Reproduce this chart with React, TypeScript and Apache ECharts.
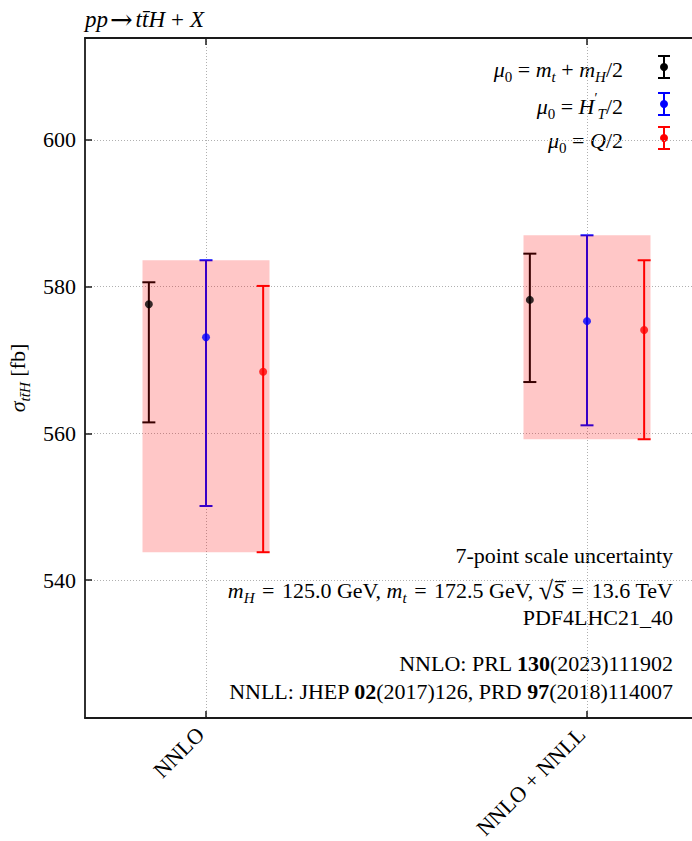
import React, { useEffect, useRef } from 'react';
import * as echarts from 'echarts';

// ---------------- data ----------------
const categories = ['NNLO', 'NNLO + NNLL'];
const scaleNames = ['mu0 = mt + mH/2', "mu0 = H'T/2", 'mu0 = Q/2'];
const centralBlack = [577.6, 578.2];
const upperBlack = [580.6, 584.5];
const lowerBlack = [561.5, 567.0];
const centralBlue = [573.1, 575.3];
const upperBlue = [583.6, 587.0];
const lowerBlue = [550.1, 561.1];
const centralRed = [568.4, 574.1];
const upperRed = [580.1, 583.6];
const lowerRed = [543.8, 559.2];
const yTicks = [540, 560, 580, 600];
const xTicks = [0, 1];
const yMin = 521.2;
const yMax = 613.9;

// ---------------- layout / style ----------------
const COLORS = ['#000000', '#0000ff', '#ff0000'];
const OFFSETS = [-0.15, 0, 0.15];
const BOX_HALF = 1 / 6;
const X_MIN = -0.3176;
const X_MAX = 1.2756;
const FONT = '"Liberation Serif", "Times New Roman", "DejaVu Serif", serif';
const AXIS_COLOR = '#1a1a1a';

const groups = [
  { central: centralBlack, upper: upperBlack, lower: lowerBlack },
  { central: centralBlue, upper: upperBlue, lower: lowerBlue },
  { central: centralRed, upper: upperRed, lower: lowerRed },
];

const richG = {
  i: { fontFamily: FONT, fontSize: 22, fontStyle: 'italic', fill: '#000', color: '#000', lineHeight: 30 },
  ti: { fontFamily: FONT, fontSize: 23, fontStyle: 'italic', fill: '#000', color: '#000', lineHeight: 30 },
  sub: { fontFamily: FONT, fontSize: 15, fontStyle: 'italic', fill: '#000', color: '#000', verticalAlign: 'bottom', lineHeight: 30 },
  subu: { fontFamily: FONT, fontSize: 15, fill: '#000', color: '#000', verticalAlign: 'bottom', lineHeight: 30 },
  sup: { fontFamily: FONT, fontSize: 14, fill: '#000', color: '#000', verticalAlign: 'top', lineHeight: 30 },
  b: { fontFamily: FONT, fontSize: 22, fontWeight: 'bold', fill: '#000', color: '#000', lineHeight: 30 },
  eq: { fontFamily: FONT, fontSize: 22, fill: '#000', color: '#000', lineHeight: 30, padding: [0, 2, 0, 2] },
  pl: { fontFamily: FONT, fontSize: 23, fill: '#000', color: '#000', lineHeight: 30, padding: [0, 6, 0, 6] },
  ar: { fontFamily: '"DejaVu Serif", serif', fontSize: 27, fill: '#000', color: '#000', lineHeight: 30, padding: [0, 3, 0, 2] },
  sq: { fontFamily: FONT, fontSize: 26, fill: '#000', color: '#000', lineHeight: 30 },
};

function textEl(text: string, x: number, y: number, align: string) {
  return {
    type: 'text',
    x,
    y,
    silent: true,
    style: {
      text,
      fontFamily: FONT,
      fontSize: 22,
      fill: '#000',
      lineHeight: 30,
      textAlign: align,
      textVerticalAlign: 'middle',
      rich: richG,
    },
  };
}

export default function App() {
  const ref = useRef<HTMLDivElement>(null);

  useEffect(() => {
    if (!ref.current) return;
    document.body.style.margin = '0';
    const chart = echarts.init(ref.current, undefined, { renderer: 'svg' });

    const errSeries = groups.map((g, gi) => ({
      type: 'custom',
      z: 2,
      silent: true,
      xAxisIndex: 0,
      yAxisIndex: 0,
      encode: { x: 0, y: [1, 2] },
      data: categories.map((_, ci) => [ci + OFFSETS[gi], g.lower[ci], g.upper[ci]]),
      renderItem: (params: any, api: any) => {
        const x = api.value(0);
        const lo = api.coord([x, api.value(1)]);
        const hi = api.coord([x, api.value(2)]);
        const cw = 6.5;
        const st = { stroke: COLORS[gi], lineWidth: 2 };
        return {
          type: 'group',
          children: [
            { type: 'line', shape: { x1: lo[0], y1: lo[1], x2: hi[0], y2: hi[1] }, style: st },
            { type: 'line', shape: { x1: lo[0] - cw, y1: lo[1], x2: lo[0] + cw, y2: lo[1] }, style: st },
            { type: 'line', shape: { x1: hi[0] - cw, y1: hi[1], x2: hi[0] + cw, y2: hi[1] }, style: st },
          ],
        };
      },
    }));

    const boxData = categories.map((_, ci) => {
      const lows = groups.map((g) => g.lower[ci]);
      const highs = groups.map((g) => g.upper[ci]);
      return [ci, Math.min(...lows), Math.max(...highs)];
    });

    const boxSeries = {
      type: 'custom',
      z: 3,
      silent: true,
      xAxisIndex: 0,
      yAxisIndex: 0,
      encode: { x: 0, y: [1, 2] },
      data: boxData,
      renderItem: (params: any, api: any) => {
        const c = api.value(0);
        const p1 = api.coord([c - BOX_HALF, api.value(2)]);
        const p2 = api.coord([c + BOX_HALF, api.value(1)]);
        return {
          type: 'rect',
          shape: { x: p1[0], y: p1[1], width: p2[0] - p1[0], height: p2[1] - p1[1] },
          style: { fill: 'rgba(255,0,0,0.22)' },
        };
      },
    };

    const pointSeries = groups.map((g, gi) => ({
      type: 'scatter',
      name: scaleNames[gi],
      z: 4,
      silent: true,
      symbol: 'circle',
      symbolSize: 8,
      itemStyle: { color: COLORS[gi] },
      data: categories.map((_, ci) => [ci + OFFSETS[gi], g.central[ci]]),
    }));

    // legend (drawn as graphic)
    const legendRows = [67, 104, 138];
    const legendTexts = [
      '{i|μ}{subu|0} = {i|m}{sub|t} + {i|m}{sub|H}/2',
      '{i|μ}{subu|0} = {i|H}{sup|′}{sub|T}/2',
      '{i|μ}{subu|0} = {i|Q}/2',
    ];
    const legendEls: any[] = [];
    legendRows.forEach((y, i) => {
      legendEls.push(textEl(legendTexts[i], 623, y + 2, 'right'));
      const st = { stroke: COLORS[i], lineWidth: 2 };
      const lx = 664;
      legendEls.push({ type: 'line', silent: true, shape: { x1: lx, y1: y - 11, x2: lx, y2: y + 11 }, style: st });
      legendEls.push({ type: 'line', silent: true, shape: { x1: lx - 6, y1: y - 11, x2: lx + 6, y2: y - 11 }, style: st });
      legendEls.push({ type: 'line', silent: true, shape: { x1: lx - 6, y1: y + 11, x2: lx + 6, y2: y + 11 }, style: st });
      legendEls.push({ type: 'circle', silent: true, shape: { cx: lx, cy: y, r: 4 }, style: { fill: COLORS[i] } });
    });

    const annotations = [
      textEl('7-point scale uncertainty', 673, 555, 'right'),
      textEl('{i|m}{sub|H} {eq|=} 125.0 GeV, {i|m}{sub|t} {eq|=} 172.5 GeV, {sq|√}{i|S\u0305} {eq|=} 13.6 TeV', 673, 590, 'right'),
      textEl('PDF4LHC21_40', 673, 617, 'right'),
      textEl('NNLO: PRL {b|130}(2023)111902', 673, 663, 'right'),
      textEl('NNLL: JHEP {b|02}(2017)126, PRD {b|97}(2018)114007', 673, 691, 'right'),
      textEl('{ti|pp}{ar|→}{ti|tt\u0304H}{pl|+}{ti|X}', 85, 19, 'left'),
    ];

    const axisLineStyle = { color: AXIS_COLOR, width: 1.8 };
    const gridLineStyle = { color: '#b0b0b0', width: 1, type: [1, 2] };

    chart.setOption({
      animation: false,
      backgroundColor: '#ffffff',
      grid: { left: 85, top: 38, right: 0, bottom: 123, containLabel: false, outerBoundsMode: 'none' },
      xAxis: [
        {
          type: 'value',
          position: 'bottom',
          min: X_MIN,
          max: X_MAX,
          axisLine: { show: true, onZero: false, lineStyle: axisLineStyle },
          axisTick: { show: true, inside: true, length: 7, customValues: xTicks, lineStyle: { color: AXIS_COLOR, width: 1.5 } },
          axisLabel: {
            show: true,
            customValues: xTicks,
            rotate: 45,
            margin: 7,
            padding: [0, 8, 0, 0],
            fontFamily: FONT,
            fontSize: 22,
            color: '#000',
            formatter: (v: number) => categories[Math.round(v)] ?? '',
          },
          splitLine: { show: true, lineStyle: gridLineStyle },
        },
        {
          type: 'value',
          position: 'top',
          min: X_MIN,
          max: X_MAX,
          axisLine: { show: true, onZero: false, lineStyle: axisLineStyle },
          axisTick: { show: true, inside: true, length: 7, customValues: xTicks, lineStyle: { color: AXIS_COLOR, width: 1.5 } },
          axisLabel: { show: false },
          splitLine: { show: false },
        },
      ],
      yAxis: {
        type: 'value',
        min: yMin,
        max: yMax,
        name: '{i|σ}{sub|tt\u0304H} [fb]',
        nameLocation: 'middle',
        nameRotate: 90,
        nameGap: 43,
        nameTextStyle: { fontFamily: FONT, fontSize: 22, color: '#000', lineHeight: 30, rich: richG },
        axisLine: { show: true, onZero: false, lineStyle: axisLineStyle },
        axisTick: { show: true, inside: true, length: 7, customValues: yTicks, lineStyle: { color: AXIS_COLOR, width: 1.5 } },
        axisLabel: { show: true, customValues: yTicks, margin: 9, fontFamily: FONT, fontSize: 22, color: '#000' },
        splitLine: { show: true, lineStyle: gridLineStyle },
      },
      series: [...errSeries, boxSeries, ...pointSeries],
      graphic: [...annotations, ...legendEls],
    });

    return () => {
      chart.dispose();
    };
  }, []);

  return (
    <div style={{ position: 'fixed', left: 0, top: 0, width: 692, height: 841, background: '#fff' }}>
      <div ref={ref} style={{ width: 692, height: 841 }} />
    </div>
  );
}
